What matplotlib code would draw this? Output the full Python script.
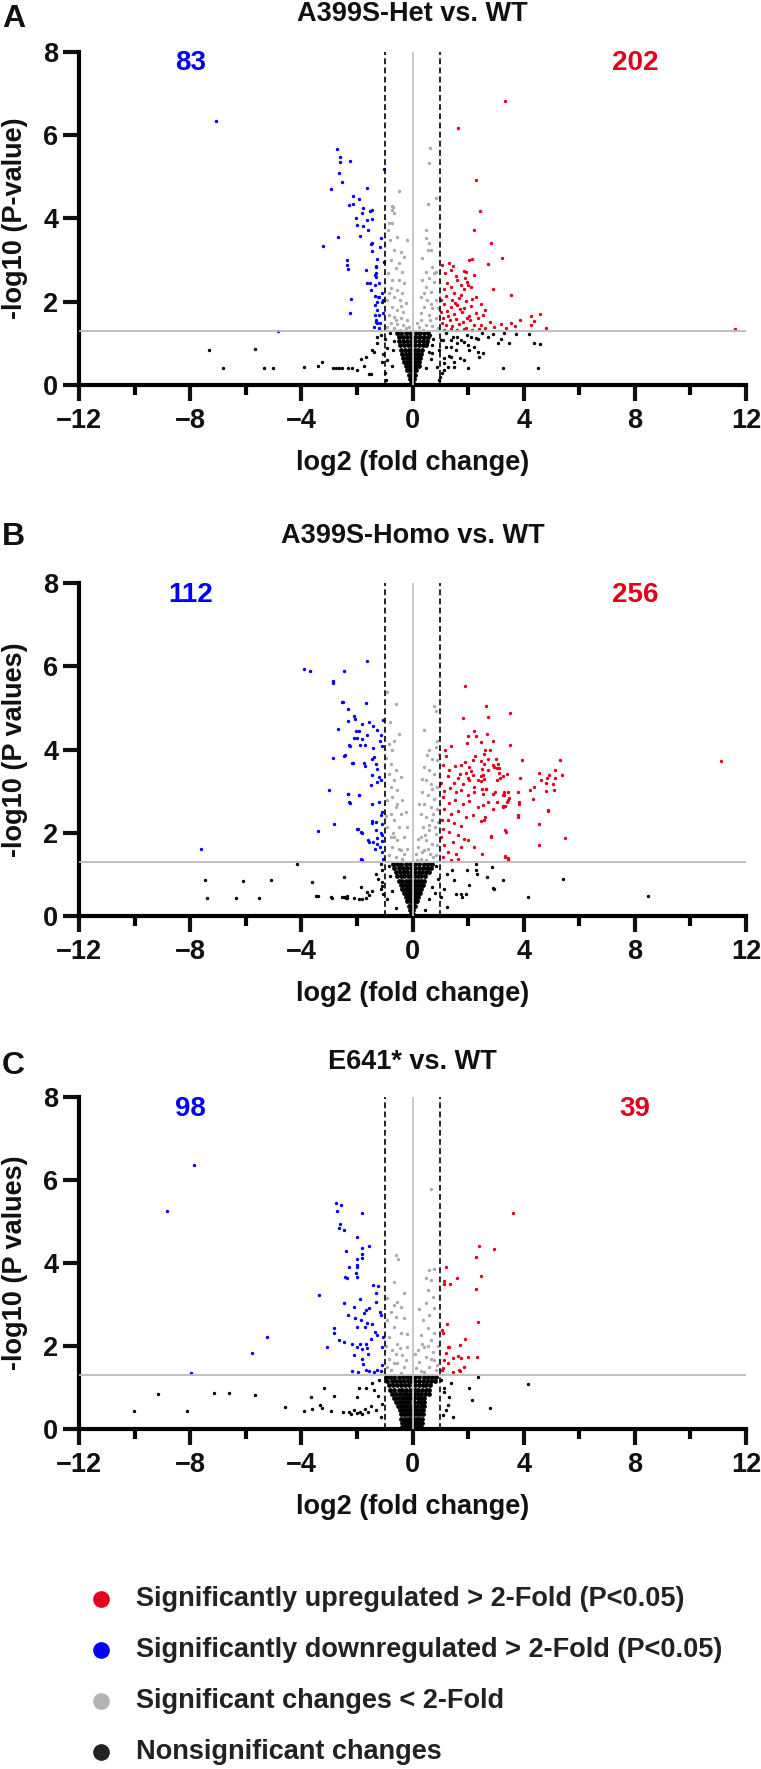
#!/usr/bin/env python3
"""Volcano plots for the three genotype comparisons"""

import numpy as np
import matplotlib
matplotlib.use('Agg')
import matplotlib.pyplot as plt
from matplotlib.lines import Line2D

# ---------------------------------------------------------------- data
titles = ['A399S-Het vs. WT', 'A399S-Homo vs. WT', 'E641* vs. WT']
panel_letters = ['A', 'B', 'C']
y_labels = ['-log10 (P-value)', '-log10 (P values)', '-log10 (P values)']
down_counts = [83, 112, 98]
up_counts = [202, 256, 39]
legend_labels = ['Significantly upregulated > 2-Fold (P<0.05)',
                 'Significantly downregulated > 2-Fold (P<0.05)',
                 'Significant changes < 2-Fold',
                 'Nonsignificant changes']
fold_cut = 1.0      # log2 fold change cutoff
p_cut = 1.3         # -log10(0.05)

# panel A: (log2 FC, -log10 p)
het_up = [(3.33, 6.82), (1.62, 6.18), (2.29, 4.91), (2.42, 4.17), (2.22, 3.72), (2.83, 3.42),
          (3.23, 3.06), (2.13, 3.02), (2.73, 2.90), (1.87, 2.74), (2.23, 2.63), (1.89, 2.56),
          (2.00, 2.40), (2.88, 2.30), (3.54, 2.16), (2.27, 2.12), (2.46, 1.94), (4.58, 1.70),
          (4.26, 1.66), (4.38, 1.54), (3.87, 1.56), (3.54, 1.48), (3.18, 1.46), (2.78, 1.52),
          (2.52, 1.68), (4.80, 1.36), (4.26, 1.44), (11.6, 1.35),
          (1.07, 2.88), (1.33, 2.94), (1.37, 2.76), (1.91, 2.71), (2.03, 3.00), (1.25, 2.45),
          (1.61, 2.51), (1.97, 2.47), (1.13, 2.30), (1.39, 2.35), (1.49, 2.21), (1.85, 2.31),
          (2.09, 2.36), (1.19, 2.14), (1.43, 2.05), (1.67, 2.09), (1.91, 2.02), (2.15, 2.07),
          (1.13, 1.95), (1.37, 1.87), (1.61, 1.91), (1.85, 1.84), (2.09, 1.89), (1.25, 1.77),
          (1.49, 1.70), (1.79, 1.75), (2.03, 1.66), (2.27, 1.73), (1.10, 1.61), (1.34, 1.55),
          (1.58, 1.59), (1.82, 1.52), (2.06, 1.56), (1.19, 1.45), (1.43, 1.41), (1.67, 1.46),
          (1.91, 1.38), (2.21, 1.43), (1.13, 1.33), (1.37, 1.35), (1.61, 1.32), (1.85, 1.34),
          (2.15, 1.32), (1.05, 1.50), (1.28, 1.66), (1.52, 1.98), (1.73, 2.16), (1.02, 2.05),
          (1.55, 2.62), (1.75, 2.40), (2.35, 1.60), (2.45, 1.45), (2.60, 1.38), (2.95, 1.40),
          (3.35, 1.38), (3.70, 1.42), (2.60, 1.80), (1.16, 2.70), (1.46, 2.86), (1.04, 1.75),
          (1.70, 1.82), (2.40, 1.35), (1.95, 1.62)]
het_down = [(-7.07, 6.33), (-2.73, 5.66), (-2.61, 5.48), (-2.61, 5.35), (-2.25, 5.38), (-2.66, 5.09),
            (-2.53, 4.87), (-2.94, 4.70), (-1.64, 4.74), (-2.13, 4.54), (-1.94, 4.46), (-2.30, 4.32),
            (-2.13, 4.34), (-1.77, 4.26), (-1.53, 4.18), (-1.45, 4.20), (-1.82, 4.12), (-2.04, 4.02),
            (-1.65, 3.96), (-1.44, 3.99), (-1.99, 3.84), (-1.77, 3.82), (-1.60, 3.72), (-1.89, 3.58),
            (-2.68, 3.56), (-3.21, 3.34), (-1.51, 3.38), (-1.44, 3.22), (-2.37, 3.00), (-2.35, 2.88),
            (-2.32, 2.78), (-1.68, 2.76), (-1.33, 2.84), (-1.34, 2.64), (-1.65, 2.46), (-1.53, 2.44),
            (-1.35, 2.39), (-1.51, 2.28), (-1.34, 2.14), (-2.23, 2.06), (-1.29, 2.00), (-1.34, 1.92),
            (-2.25, 1.72), (-1.35, 1.68), (-1.31, 1.56), (-1.29, 1.48), (-4.83, 1.30),
            (-1.02, 5.18), (-1.14, 3.54), (-1.16, 3.32), (-1.04, 2.96), (-1.28, 3.02), (-1.30, 2.86),
            (-1.30, 2.70), (-1.32, 2.60), (-1.20, 2.44), (-1.08, 2.20), (-1.24, 2.12), (-1.10, 2.00),
            (-1.28, 1.80), (-1.07, 1.74), (-1.20, 1.68), (-1.32, 1.52), (-1.16, 1.48), (-1.21, 1.36),
            (-1.40, 1.40), (-1.45, 3.40), (-1.21, 2.12), (-1.06, 2.04), (-1.03, 2.96)]
het_sig = [(0.62, 5.70), (0.60, 5.34), (-0.48, 4.66), (0.84, 4.49), (0.54, 4.34), (-0.72, 4.30),
           (-0.20, 3.48), (-0.84, 3.88), (-0.72, 4.20), (-0.88, 3.72), (0.48, 3.52), (0.54, 3.24),
           (0.78, 2.68),
           (-0.70, 4.28), (-0.67, 4.12), (-0.73, 3.88), (-0.82, 3.48), (-0.55, 3.56), (-0.67, 3.24),
           (-0.43, 3.20), (-0.31, 3.08), (-0.79, 3.00), (-0.49, 2.92), (-0.61, 2.80), (-0.37, 2.72),
           (-0.89, 2.68), (-0.73, 2.52), (-0.49, 2.52), (-0.31, 2.44), (-0.79, 2.32), (-0.55, 2.28),
           (-0.37, 2.20), (-0.67, 2.12), (-0.91, 2.04), (-0.46, 2.04), (-0.25, 1.96), (-0.73, 1.88),
           (-0.55, 1.80), (-0.34, 1.76), (-0.85, 1.68), (-0.65, 1.64), (-0.43, 1.60), (-0.19, 1.56),
           (-0.77, 1.48), (-0.55, 1.46), (-0.34, 1.44), (-0.91, 1.40), (-0.13, 1.40), (-0.67, 1.36),
           (-0.46, 1.33), (-0.25, 1.36),
           (0.55, 4.34), (0.47, 3.72), (0.59, 3.40), (0.65, 3.24), (0.35, 3.04), (0.71, 2.84),
           (0.47, 2.72), (0.83, 2.72), (0.59, 2.56), (0.35, 2.52), (0.77, 2.48), (0.47, 2.36),
           (0.65, 2.24), (0.29, 2.12), (0.53, 2.04), (0.83, 2.04), (0.41, 1.88), (0.71, 1.84),
           (0.29, 1.72), (0.59, 1.68), (0.83, 1.60), (0.31, 1.56), (0.47, 1.44), (0.71, 1.42),
           (0.23, 1.40), (0.38, 1.33), (0.91, 1.36), (0.15, 1.50), (0.62, 1.55), (0.90, 1.85),
           (-0.60, 1.55), (-0.85, 2.20), (-0.40, 1.90), (0.40, 2.20), (0.65, 1.95)]
het_ns = [(-7.32, 0.85), (-6.81, 0.42), (-5.67, 0.86), (-5.33, 0.41), (-5.03, 0.41), (-3.91, 0.43),
          (-3.41, 0.46), (-3.26, 0.55), (-2.85, 0.41), (-2.75, 0.41), (-2.65, 0.42), (-2.55, 0.41),
          (-2.31, 0.42), (-2.16, 0.42), (-1.99, 0.36), (-1.86, 0.62), (-1.74, 0.46), (-1.56, 0.27),
          (-1.44, 0.84), (-1.29, 1.16), (-1.51, 0.26), (-1.69, 0.68), (-1.39, 0.80), (-1.27, 1.00),
          (-1.10, 0.55), (-1.00, 0.28), (-0.94, 0.12), (-1.05, 0.75), (-0.92, 0.60), (-0.90, 0.90),
          (-0.98, 1.10), (-1.15, 1.20), (-0.82, 1.25), (-0.75, 0.45), (-0.70, 0.85), (-0.65, 1.05),
          (3.27, 0.42), (4.50, 0.42), (4.38, 1.02), (4.59, 0.98), (4.20, 1.22), (3.72, 1.22),
          (3.48, 1.02), (3.18, 1.10), (3.06, 1.00), (2.88, 1.22), (2.52, 0.76), (2.34, 0.80),
          (2.22, 0.92), (1.86, 0.60), (1.71, 0.64), (2.10, 1.16), (2.70, 1.16), (1.98, 0.96),
          (1.56, 0.84), (1.38, 0.92), (1.14, 0.64), (1.26, 0.44), (1.14, 0.36), (1.08, 1.08),
          (1.44, 1.15), (1.74, 1.08), (1.95, 1.20), (2.35, 1.10), (1.30, 0.70), (1.60, 1.00),
          (1.00, 0.20), (0.95, 0.85), (1.20, 1.25), (2.50, 1.25), (1.50, 0.55), (3.30, 1.25),
          (2.00, 0.40), (1.05, 0.30), (0.29, 1.16), (0.53, 1.00), (0.71, 0.76), (0.89, 0.44),
          (1.01, 1.08), (1.19, 0.92), (1.37, 1.08), (1.61, 1.16), (1.85, 1.04), (2.03, 0.84),
          (2.27, 1.12), (2.39, 0.68), (1.37, 0.68), (1.13, 0.52), (1.49, 0.44), (0.95, 0.12),
          (0.62, 1.20), (0.70, 0.95), (0.66, 0.62), (0.48, 0.40), (0.75, 1.10), (0.58, 0.80)]
# dense core below the p cutoff, one row per -log10 p level
het_core = [(1.25, [-0.55, -0.40, -0.25, -0.10, 0.12, 0.27, 0.42, 0.57]),
            (1.15, [-0.50, -0.35, -0.20, -0.07, 0.10, 0.25, 0.40, 0.55]),
            (1.05, [-0.48, -0.33, -0.18, -0.06, 0.10, 0.24, 0.38, 0.52]),
            (0.95, [-0.45, -0.30, -0.16, -0.05, 0.09, 0.22, 0.36, 0.50]),
            (0.85, [-0.40, -0.27, -0.14, -0.05, 0.09, 0.20, 0.33]),
            (0.75, [-0.37, -0.24, -0.12, -0.04, 0.08, 0.19, 0.30]),
            (0.65, [-0.33, -0.21, -0.10, -0.04, 0.07, 0.17, 0.27]),
            (0.55, [-0.29, -0.18, -0.08, 0.07, 0.16, 0.25]),
            (0.45, [-0.24, -0.14, -0.06, 0.06, 0.14, 0.22]),
            (0.35, [-0.19, -0.10, -0.04, 0.05, 0.12]),
            (0.25, [-0.14, -0.06, 0.05, 0.10]),
            (0.15, [-0.09, -0.03, 0.04]),
            (0.05, [-0.04, 0.03])]

# panel B
homo_up = [(11.1, 3.72), (2.64, 5.04), (2.71, 4.78), (3.51, 4.89), (2.68, 4.38), (2.90, 4.22),
           (3.51, 4.10), (3.93, 3.76), (5.29, 3.75), (4.56, 3.45), (4.62, 3.27), (5.38, 3.40),
           (5.12, 3.52), (4.92, 3.38), (4.84, 3.31), (4.79, 3.20), (5.12, 3.31), (5.06, 3.18),
           (5.08, 3.03), (4.79, 3.00), (4.37, 3.10), (4.24, 3.03), (4.32, 2.81), (3.86, 3.31),
           (3.83, 2.75), (3.78, 2.97), (3.80, 2.42), (4.87, 2.56), (4.56, 2.22), (4.55, 1.71),
           (5.47, 1.87), (3.33, 2.06), (2.82, 1.92), (3.32, 1.45), (3.44, 1.39), (2.51, 1.49),
           (2.62, 4.00), (2.80, 3.98), (2.46, 3.72), (2.70, 3.78), (3.00, 3.78), (3.09, 3.66),
           (2.56, 3.66), (2.92, 3.58), (3.04, 3.56), (2.50, 3.53), (3.12, 3.44), (3.40, 3.41),
           (3.27, 3.36), (3.15, 3.33), (2.58, 3.29), (2.46, 3.36), (3.04, 3.26), (2.50, 3.06),
           (2.64, 3.06), (2.88, 2.94), (3.28, 2.98), (3.42, 2.98), (3.26, 2.91), (3.49, 2.83),
           (3.40, 2.74), (3.26, 2.65), (3.34, 2.65), (3.04, 2.73), (2.52, 2.67), (2.88, 2.57),
           (2.62, 2.38),
           (1.89, 5.53), (1.80, 4.76), (2.22, 4.46), (2.30, 4.33), (1.98, 4.33), (2.46, 4.18),
           (1.95, 4.16), (1.40, 4.08), (1.16, 3.98), (1.19, 3.84), (2.25, 3.85), (2.57, 3.89),
           (1.08, 3.63), (1.32, 3.50), (1.52, 3.60), (1.74, 3.62), (1.88, 3.71), (2.04, 3.58),
           (2.19, 3.75), (2.12, 3.48), (1.92, 3.44), (1.71, 3.41), (1.98, 3.33), (2.16, 3.40),
           (2.34, 3.27), (2.52, 3.38), (2.70, 3.52), (2.91, 3.64), (3.12, 3.55), (1.26, 3.36),
           (1.50, 3.20), (1.62, 3.31), (1.80, 3.18), (2.04, 3.27), (2.22, 3.09), (2.46, 3.24),
           (2.64, 3.05), (1.14, 3.00), (1.35, 3.08), (1.56, 2.97), (1.76, 3.03), (1.98, 2.92),
           (2.22, 2.98), (2.52, 2.94), (2.96, 2.99), (3.30, 2.90), (1.08, 2.86), (1.32, 2.72),
           (1.52, 2.79), (1.83, 2.70), (2.04, 2.76), (2.34, 2.61), (2.70, 2.74), (3.42, 2.78),
           (1.14, 2.58), (1.40, 2.45), (1.62, 2.52), (1.92, 2.37), (2.16, 2.44), (2.46, 2.29),
           (3.24, 2.61), (1.26, 2.30), (1.50, 2.24), (1.74, 2.16), (1.08, 2.10), (1.32, 2.02),
           (1.62, 1.94), (1.86, 1.86), (1.44, 1.78), (1.14, 1.70), (1.74, 1.66), (1.98, 1.82),
           (2.22, 1.66), (1.26, 1.54), (1.56, 1.50), (1.08, 1.42), (1.38, 1.34), (1.62, 1.36),
           (2.58, 2.32), (2.82, 1.90), (3.36, 2.02), (3.32, 1.41), (3.42, 1.34), (4.88, 2.52),
           (3.84, 2.70), (3.81, 2.38), (1.02, 3.20), (1.05, 2.30), (1.03, 1.90)]
homo_down = [(-1.62, 6.12), (-2.47, 5.90), (-2.49, 5.14), (-1.68, 5.13), (-2.31, 4.97), (-2.11, 4.81),
             (-2.07, 4.73), (-2.31, 4.68), (-1.80, 4.62), (-1.56, 4.67), (-1.41, 4.56), (-1.26, 4.48),
             (-1.07, 4.72), (-2.05, 4.44), (-1.91, 4.44), (-1.63, 4.36), (-1.99, 4.28), (-2.12, 4.28),
             (-1.83, 4.25), (-1.13, 4.36), (-1.16, 4.22), (-1.89, 4.12), (-1.70, 4.12), (-2.25, 4.08),
             (-2.45, 3.85), (-1.43, 4.04), (-1.09, 4.09), (-1.39, 3.82), (-1.47, 3.78), (-2.15, 3.68),
             (-1.76, 3.68), (-1.71, 3.60), (-1.31, 3.65), (-1.27, 3.54), (-1.45, 3.38), (-1.19, 3.34),
             (-1.27, 3.22), (-1.49, 3.16), (-1.12, 3.26), (-2.31, 2.93), (-1.91, 2.90), (-2.25, 2.72),
             (-1.44, 2.70), (-1.21, 2.74), (-1.08, 2.50), (-1.13, 2.42), (-1.44, 2.29), (-1.32, 2.25),
             (-1.10, 2.22), (-1.47, 2.24), (-1.97, 2.09), (-1.81, 2.00), (-1.31, 2.06), (-1.15, 2.00),
             (-1.08, 1.95), (-1.27, 1.87), (-1.57, 1.79), (-1.41, 1.78), (-1.10, 1.80), (-1.29, 1.73),
             (-1.16, 1.66), (-1.35, 1.61), (-1.09, 1.54), (-1.82, 1.35), (-1.07, 1.38),
             (-7.61, 1.61), (-3.89, 5.93), (-3.69, 5.90), (-2.85, 5.65), (-2.86, 5.60), (-2.52, 5.14),
             (-2.67, 4.49), (-2.29, 4.10), (-2.44, 3.86), (-2.85, 3.81), (-2.19, 3.68), (-2.99, 3.02),
             (-2.32, 2.94), (-1.94, 2.90), (-2.28, 2.73), (-2.82, 2.22), (-3.39, 2.05), (-2.01, 2.09),
             (-1.84, 2.01), (-1.60, 1.82), (-1.84, 1.36)]
homo_sig = [(-0.91, 5.38), (-0.61, 5.10), (-0.82, 4.66), (-0.49, 4.38), (-0.67, 4.22), (-0.85, 4.14),
            (-0.73, 3.98), (-0.79, 3.66), (-0.61, 3.50), (-0.85, 3.42), (-0.67, 3.26), (-0.43, 3.34),
            (-0.79, 3.10), (-0.55, 3.02), (-0.73, 2.86), (-0.37, 2.78), (-0.91, 2.78), (-0.61, 2.62),
            (-0.79, 2.46), (-0.43, 2.46), (-0.25, 2.50), (-0.67, 2.30), (-0.91, 2.14), (-0.49, 2.14),
            (-0.19, 2.14), (-0.79, 1.90), (-0.55, 1.82), (-0.31, 1.90), (-0.73, 1.66), (-0.43, 1.58),
            (-0.19, 1.62), (-0.61, 1.42), (-0.37, 1.38), (-0.85, 1.46),
            (0.79, 5.06), (0.83, 4.94), (0.43, 4.48), (0.89, 4.22), (0.83, 4.06), (0.53, 3.86),
            (0.71, 3.78), (0.89, 3.74), (0.41, 3.58), (0.59, 3.50), (0.77, 3.42), (0.47, 3.26),
            (0.65, 3.18), (0.89, 3.10), (0.35, 2.98), (0.55, 2.90), (0.77, 2.82), (0.41, 2.70),
            (0.65, 2.62), (0.89, 2.58), (0.29, 2.46), (0.50, 2.38), (0.71, 2.30), (0.91, 2.26),
            (0.38, 2.14), (0.59, 2.06), (0.83, 1.98), (0.29, 1.90), (0.47, 1.82), (0.71, 1.74),
            (0.89, 1.70), (0.19, 1.66), (0.41, 1.58), (0.62, 1.50), (0.83, 1.46), (0.29, 1.38),
            (0.50, 1.34), (0.74, 1.42), (0.11, 1.50),
            (0.25, 2.70), (0.35, 3.30), (0.60, 4.00), (0.75, 2.45), (0.45, 1.95), (0.20, 1.85),
            (0.15, 1.35), (0.95, 3.90), (0.70, 3.05), (-0.30, 1.50), (-0.95, 2.40), (-0.70, 2.00),
            (-0.95, 3.80), (-0.55, 2.70), (0.60, 2.20), (0.80, 2.15), (0.55, 1.60), (0.35, 1.55),
            (-0.50, 1.60), (-0.65, 1.90)]
homo_ns = [(-7.47, 0.86), (-7.38, 0.44), (-6.36, 0.44), (-6.09, 0.85), (-5.54, 0.44), (-5.10, 0.86),
           (-4.17, 1.26), (-3.61, 0.82), (-3.47, 0.49), (-3.40, 0.49), (-2.95, 0.45), (-2.88, 0.44),
           (-2.47, 0.93), (-2.45, 0.45), (-2.40, 0.44), (-2.36, 0.47), (-2.54, 0.45), (-2.35, 0.44),
           (-2.11, 0.43), (-1.93, 0.42), (-1.81, 0.42), (-1.69, 0.44), (-1.57, 0.50), (-1.63, 0.58),
           (-1.45, 0.61), (-1.85, 0.70), (-1.15, 0.66), (-1.09, 0.72), (-1.06, 0.54), (-1.33, 1.02),
           (-1.23, 0.90), (-1.09, 0.82), (-1.15, 1.26), (-1.09, 1.10),
           (1.25, 1.02), (1.43, 1.10), (1.49, 0.86), (1.55, 0.54), (1.25, 0.22), (1.01, 0.46),
           (1.13, 0.66), (1.73, 0.54), (1.79, 0.46), (1.91, 0.54), (1.97, 1.10), (2.27, 1.26),
           (2.27, 1.10), (2.33, 1.02), (2.03, 0.74), (2.69, 0.94), (2.86, 1.19), (2.89, 0.68),
           (2.93, 0.66), (3.27, 0.87), (4.14, 0.46), (5.41, 0.90), (8.48, 0.47),
           (-0.85, 1.20), (-0.80, 0.95), (-0.75, 0.60), (-0.90, 0.40), (0.85, 1.20), (0.90, 0.90),
           (0.70, 0.70), (0.60, 0.40), (0.80, 0.55), (-0.60, 0.20), (0.45, 0.15)]
homo_core = [(1.25, [-0.70, -0.55, -0.40, -0.25, -0.10, 0.10, 0.25, 0.40, 0.55, 0.70]),
             (1.15, [-0.65, -0.50, -0.35, -0.20, -0.07, 0.10, 0.24, 0.38, 0.52, 0.66]),
             (1.05, [-0.60, -0.46, -0.32, -0.18, -0.06, 0.09, 0.22, 0.35, 0.48, 0.60]),
             (0.95, [-0.55, -0.42, -0.29, -0.16, -0.05, 0.08, 0.20, 0.32, 0.44]),
             (0.85, [-0.48, -0.36, -0.24, -0.13, -0.04, 0.08, 0.18, 0.29, 0.40]),
             (0.75, [-0.42, -0.30, -0.19, -0.09, 0.07, 0.16, 0.26, 0.36]),
             (0.65, [-0.36, -0.25, -0.15, -0.06, 0.06, 0.14, 0.23, 0.32]),
             (0.55, [-0.30, -0.20, -0.11, -0.04, 0.05, 0.12, 0.20, 0.28]),
             (0.45, [-0.24, -0.15, -0.07, 0.05, 0.11, 0.18]),
             (0.35, [-0.18, -0.10, -0.04, 0.04, 0.09, 0.15]),
             (0.25, [-0.12, -0.05, 0.04, 0.09]),
             (0.15, [-0.08, -0.03, 0.03]),
             (0.05, [-0.04, 0.03])]

# panel C
e641_up = [(3.63, 5.21), (2.39, 4.41), (2.95, 4.35), (2.30, 4.15), (2.46, 3.69), (1.59, 3.63),
           (1.20, 3.91), (1.12, 3.56), (1.14, 3.50), (1.34, 3.49), (2.28, 3.37), (1.24, 2.53),
           (2.37, 2.59), (1.06, 2.39), (1.10, 2.31), (1.89, 2.16), (1.70, 2.02), (1.29, 1.97),
           (1.33, 1.97), (1.22, 1.84), (1.47, 1.72), (1.62, 1.77), (1.76, 1.72), (2.00, 1.73),
           (2.31, 1.73), (1.14, 1.66), (1.27, 1.58), (1.86, 1.49), (1.68, 1.42), (1.71, 1.39),
           (1.46, 1.38), (1.10, 1.48), (1.06, 1.42)]
e641_down = [(-7.88, 6.36), (-8.85, 5.26), (-7.97, 1.34), (-5.79, 1.84), (-5.23, 2.22), (-3.38, 3.24),
             (-2.77, 5.44), (-2.56, 5.41), (-2.71, 5.25), (-1.81, 5.21), (-2.61, 4.94), (-2.66, 4.85),
             (-2.47, 4.79), (-2.01, 4.63), (-1.83, 4.37), (-1.58, 4.41), (-1.81, 4.23), (-2.41, 4.30),
             (-2.01, 4.11), (-1.81, 4.12), (-1.98, 3.95), (-2.29, 3.91), (-1.99, 3.91), (-2.04, 3.77),
             (-2.43, 3.67), (-2.34, 3.63), (-1.99, 3.67), (-1.41, 3.47), (-1.23, 3.45), (-1.33, 3.27),
             (-1.89, 3.13), (-1.32, 3.06), (-2.47, 3.03), (-2.11, 2.95), (-1.69, 2.87), (-1.57, 2.91),
             (-1.76, 2.79), (-1.17, 2.83), (-1.14, 2.76), (-2.31, 2.75), (-2.06, 2.67), (-1.87, 2.64),
             (-1.65, 2.55), (-1.44, 2.53), (-1.99, 2.47), (-1.72, 2.45), (-2.82, 2.43), (-2.82, 2.31),
             (-1.35, 2.35), (-1.27, 2.27), (-2.64, 2.14), (-2.47, 2.09), (-1.50, 2.17), (-2.19, 2.06),
             (-1.89, 2.05), (-1.69, 2.06), (-3.09, 1.98), (-1.99, 1.98), (-1.83, 1.92), (-1.63, 1.96),
             (-2.09, 1.78), (-1.59, 1.82), (-1.81, 1.70), (-1.77, 1.57), (-1.08, 1.54), (-2.19, 1.41),
             (-1.95, 1.37), (-1.69, 1.42), (-1.57, 1.41), (-1.39, 1.37), (-1.14, 1.40), (-1.06, 2.21),
             (-1.26, 1.42), (-1.10, 1.98)]
e641_sig = [(-0.58, 4.19), (-0.52, 4.11), (-0.66, 3.55), (-0.30, 3.29), (-0.92, 3.16), (-0.54, 3.07),
            (-0.42, 2.95), (-0.78, 2.83), (-0.60, 2.71), (-0.90, 2.63), (-0.30, 2.67), (-0.66, 2.47),
            (-0.42, 2.31), (-0.84, 2.22), (-0.54, 2.06), (-0.72, 1.90), (-0.36, 1.78), (-0.84, 1.70),
            (-0.54, 1.58), (-0.30, 1.50), (-0.78, 1.42), (-0.42, 1.34), (-0.60, 1.82), (-0.18, 1.98),
            (-0.24, 1.66),
            (0.68, 5.78), (0.78, 3.85), (0.60, 3.83), (0.48, 3.63), (0.66, 3.59), (0.54, 3.35),
            (0.72, 3.19), (0.48, 3.03), (0.78, 2.91), (0.60, 2.75), (0.36, 2.63), (0.54, 2.43),
            (0.78, 2.31), (0.30, 2.27), (0.66, 2.14), (0.42, 1.98), (0.18, 1.90), (0.72, 1.86),
            (0.48, 1.74), (0.24, 1.62), (0.78, 1.66), (0.60, 1.50), (0.12, 1.46), (0.42, 1.38),
            (0.84, 1.42), (0.90, 2.00), (0.88, 1.55), (0.25, 2.90), (-0.95, 2.00), (-0.90, 1.50),
            (-0.20, 2.30), (0.10, 1.80), (-0.65, 3.00), (0.35, 2.05), (0.55, 2.00), (-0.65, 1.60),
            (-0.45, 1.95), (0.30, 1.40), (0.65, 1.70)]
e641_ns = [(-10.01, 0.43), (-9.17, 0.84), (-8.10, 0.44), (-7.13, 0.86), (-6.60, 0.86), (-5.66, 0.83),
           (-4.57, 0.52), (-3.91, 0.44), (-3.67, 0.76), (-3.62, 0.48), (-3.33, 0.58), (-3.26, 0.50),
           (-2.94, 0.44), (-3.17, 0.98), (-2.83, 0.80), (-2.49, 0.42), (-2.30, 0.40), (-2.20, 0.35),
           (-2.10, 0.45), (-2.00, 0.38), (-1.90, 0.42), (-1.80, 0.36), (-1.70, 0.48), (-1.60, 0.40),
           (-1.50, 0.55), (-2.01, 0.76), (-1.92, 0.98), (-1.68, 0.98), (-1.45, 1.10), (-1.38, 0.95),
           (-1.20, 1.18), (-1.25, 0.80), (-1.10, 0.60), (-1.30, 0.45), (-1.15, 0.30),
           (4.16, 1.09), (2.79, 0.50), (2.15, 0.70), (2.04, 0.98), (2.34, 1.26), (1.44, 0.30),
           (1.26, 0.58), (1.14, 0.90), (1.32, 0.78), (1.02, 1.18), (1.38, 1.10), (1.20, 0.45),
           (1.08, 0.34), (1.15, 1.00)]
e641_core = [(1.25, [-0.95, -0.80, -0.65, -0.50, -0.35, -0.20, -0.07, 0.10, 0.25, 0.40, 0.55, 0.70, 0.85]),
             (1.15, [-0.90, -0.75, -0.60, -0.45, -0.30, -0.16, -0.06, 0.10, 0.24, 0.38, 0.52, 0.66, 0.80]),
             (1.05, [-0.85, -0.70, -0.55, -0.40, -0.26, -0.13, 0.09, 0.22, 0.36, 0.50, 0.64]),
             (0.95, [-0.80, -0.65, -0.50, -0.36, -0.22, -0.10, 0.08, 0.21, 0.34, 0.47, 0.60]),
             (0.85, [-0.72, -0.58, -0.44, -0.31, -0.18, -0.08, 0.08, 0.20, 0.32, 0.45, 0.58]),
             (0.75, [-0.65, -0.52, -0.39, -0.27, -0.15, -0.07, 0.07, 0.19, 0.31, 0.43]),
             (0.65, [-0.58, -0.46, -0.34, -0.23, -0.12, 0.07, 0.18, 0.30, 0.42]),
             (0.55, [-0.52, -0.40, -0.29, -0.19, -0.10, 0.06, 0.17, 0.29, 0.40]),
             (0.45, [-0.46, -0.35, -0.25, -0.15, -0.08, 0.06, 0.16, 0.27, 0.38]),
             (0.35, [-0.42, -0.32, -0.22, -0.13, -0.06, 0.05, 0.15, 0.26, 0.36]),
             (0.25, [-0.40, -0.30, -0.20, -0.11, -0.05, 0.05, 0.15, 0.25, 0.34]),
             (0.15, [-0.38, -0.28, -0.18, -0.10, -0.04, 0.05, 0.14, 0.24, 0.33]),
             (0.05, [-0.36, -0.26, -0.16, -0.08, 0.05, 0.14, 0.23, 0.32])]

panels = [(het_up, het_down, het_sig, het_ns, het_core),
          (homo_up, homo_down, homo_sig, homo_ns, homo_core),
          (e641_up, e641_down, e641_sig, e641_ns, e641_core)]

# ---------------------------------------------------------------- style
RED = '#e2001a'
BLUE = '#0000ff'
GRAY = '#ababab'
BLACK = '#000000'
TEXT = '#111111'

plt.rcParams['font.family'] = ['Liberation Sans', 'DejaVu Sans']
plt.rcParams['font.weight'] = 'bold'

W, H = 761, 1769
fig = plt.figure(figsize=(W / 100, H / 100), dpi=100)


def fx(px):
    return px / W


def fy(py):
    return 1 - py / H


# pixel positions of each panel: (y of value 0, y of value 8, title y, letter y)
left_px, right_px = 79, 746
panel_px = [(385, 51.7, 14, 19), (916, 583.3, 536, 537), (1429, 1097.3, 1062, 1066)]


def to_xy(pts):
    arr = np.array(pts, dtype=float)
    return arr[:, 0], arr[:, 1]


for i, (up, down, sig, ns, core) in enumerate(panels):
    y0, y8, ty, ly = panel_px[i]
    ax = fig.add_axes([fx(left_px), fy(y0), fx(right_px - left_px), (y0 - y8) / H])

    # reference lines
    ax.axhline(p_cut, color='#bbbbbb', lw=1.3, zorder=3)
    ax.plot([0, 0], [0, 8], color='#c4c4c4', lw=1.3, zorder=3)
    for xv in (-fold_cut, fold_cut):
        ax.plot([xv, xv], [0, 8], color='black', lw=1.2, dashes=(3.5, 2), zorder=3)

    cx = [x for y, xs in core for x in xs]
    cy = [y for y, xs in core for x in xs]
    ax.scatter(cx, cy, s=12, color=BLACK, lw=0, zorder=2)
    for pts, col in ((ns, BLACK), (sig, GRAY), (down, BLUE), (up, RED)):
        xs, ys = to_xy(pts)
        ax.scatter(xs, ys, s=6, color=col, lw=0, zorder=2, clip_on=False)

    ax.text(-8, 7.72, str(down_counts[i]), color=BLUE, fontsize=20, ha='center', va='center')
    ax.text(8, 7.72, str(up_counts[i]), color=RED, fontsize=20, ha='center', va='center')

    ax.set_xlim(-12, 12)
    ax.set_ylim(0, 8)
    ax.set_xticks([-12, -8, -4, 0, 4, 8, 12])
    ax.set_xticks([-10, -6, -2, 2, 6, 10], minor=True)
    ax.set_yticks([0, 2, 4, 6, 8])
    for side in ('top', 'right'):
        ax.spines[side].set_visible(False)
    for side in ('left', 'bottom'):
        ax.spines[side].set_linewidth(3)
        ax.spines[side].set_capstyle('projecting')
    ax.tick_params(which='major', length=11.5, width=3, labelsize=19.5, colors=TEXT)
    ax.tick_params(axis='x', which='minor', length=7, width=3)
    ax.tick_params(axis='x', which='major', pad=5)
    ax.tick_params(axis='y', which='major', pad=3.5)
    ax.patch.set_alpha(0)

    fig.text(fx((left_px + right_px) / 2), fy(ty), titles[i], ha='center', va='center',
             fontsize=19.5, color=TEXT)
    fig.text(fx(2), fy(ly), panel_letters[i], ha='left', va='center', fontsize=23, color=TEXT)
    fig.text(fx(15), fy((y0 + y8) / 2), y_labels[i], rotation=90, ha='center', va='center',
             fontsize=19.5, color=TEXT)
    fig.text(fx((left_px + right_px) / 2), fy(y0 + 78), 'log2 (fold change)', ha='center',
             va='center', fontsize=19.5, color=TEXT)

# legend block
leg_colors = [RED, BLUE, '#b3b3b3', '#222222']
leg_y = [1599, 1650, 1701, 1752]
for lab, col, yy in zip(legend_labels, leg_colors, leg_y):
    fig.lines.append(Line2D([fx(100.6)], [fy(yy)], marker='o', markersize=11, color=col,
                            lw=0, transform=fig.transFigure))
    fig.text(fx(136), fy(yy), lab, ha='left', va='center', fontsize=19.5, color='#222222')

fig.savefig('out.png', dpi=100)
